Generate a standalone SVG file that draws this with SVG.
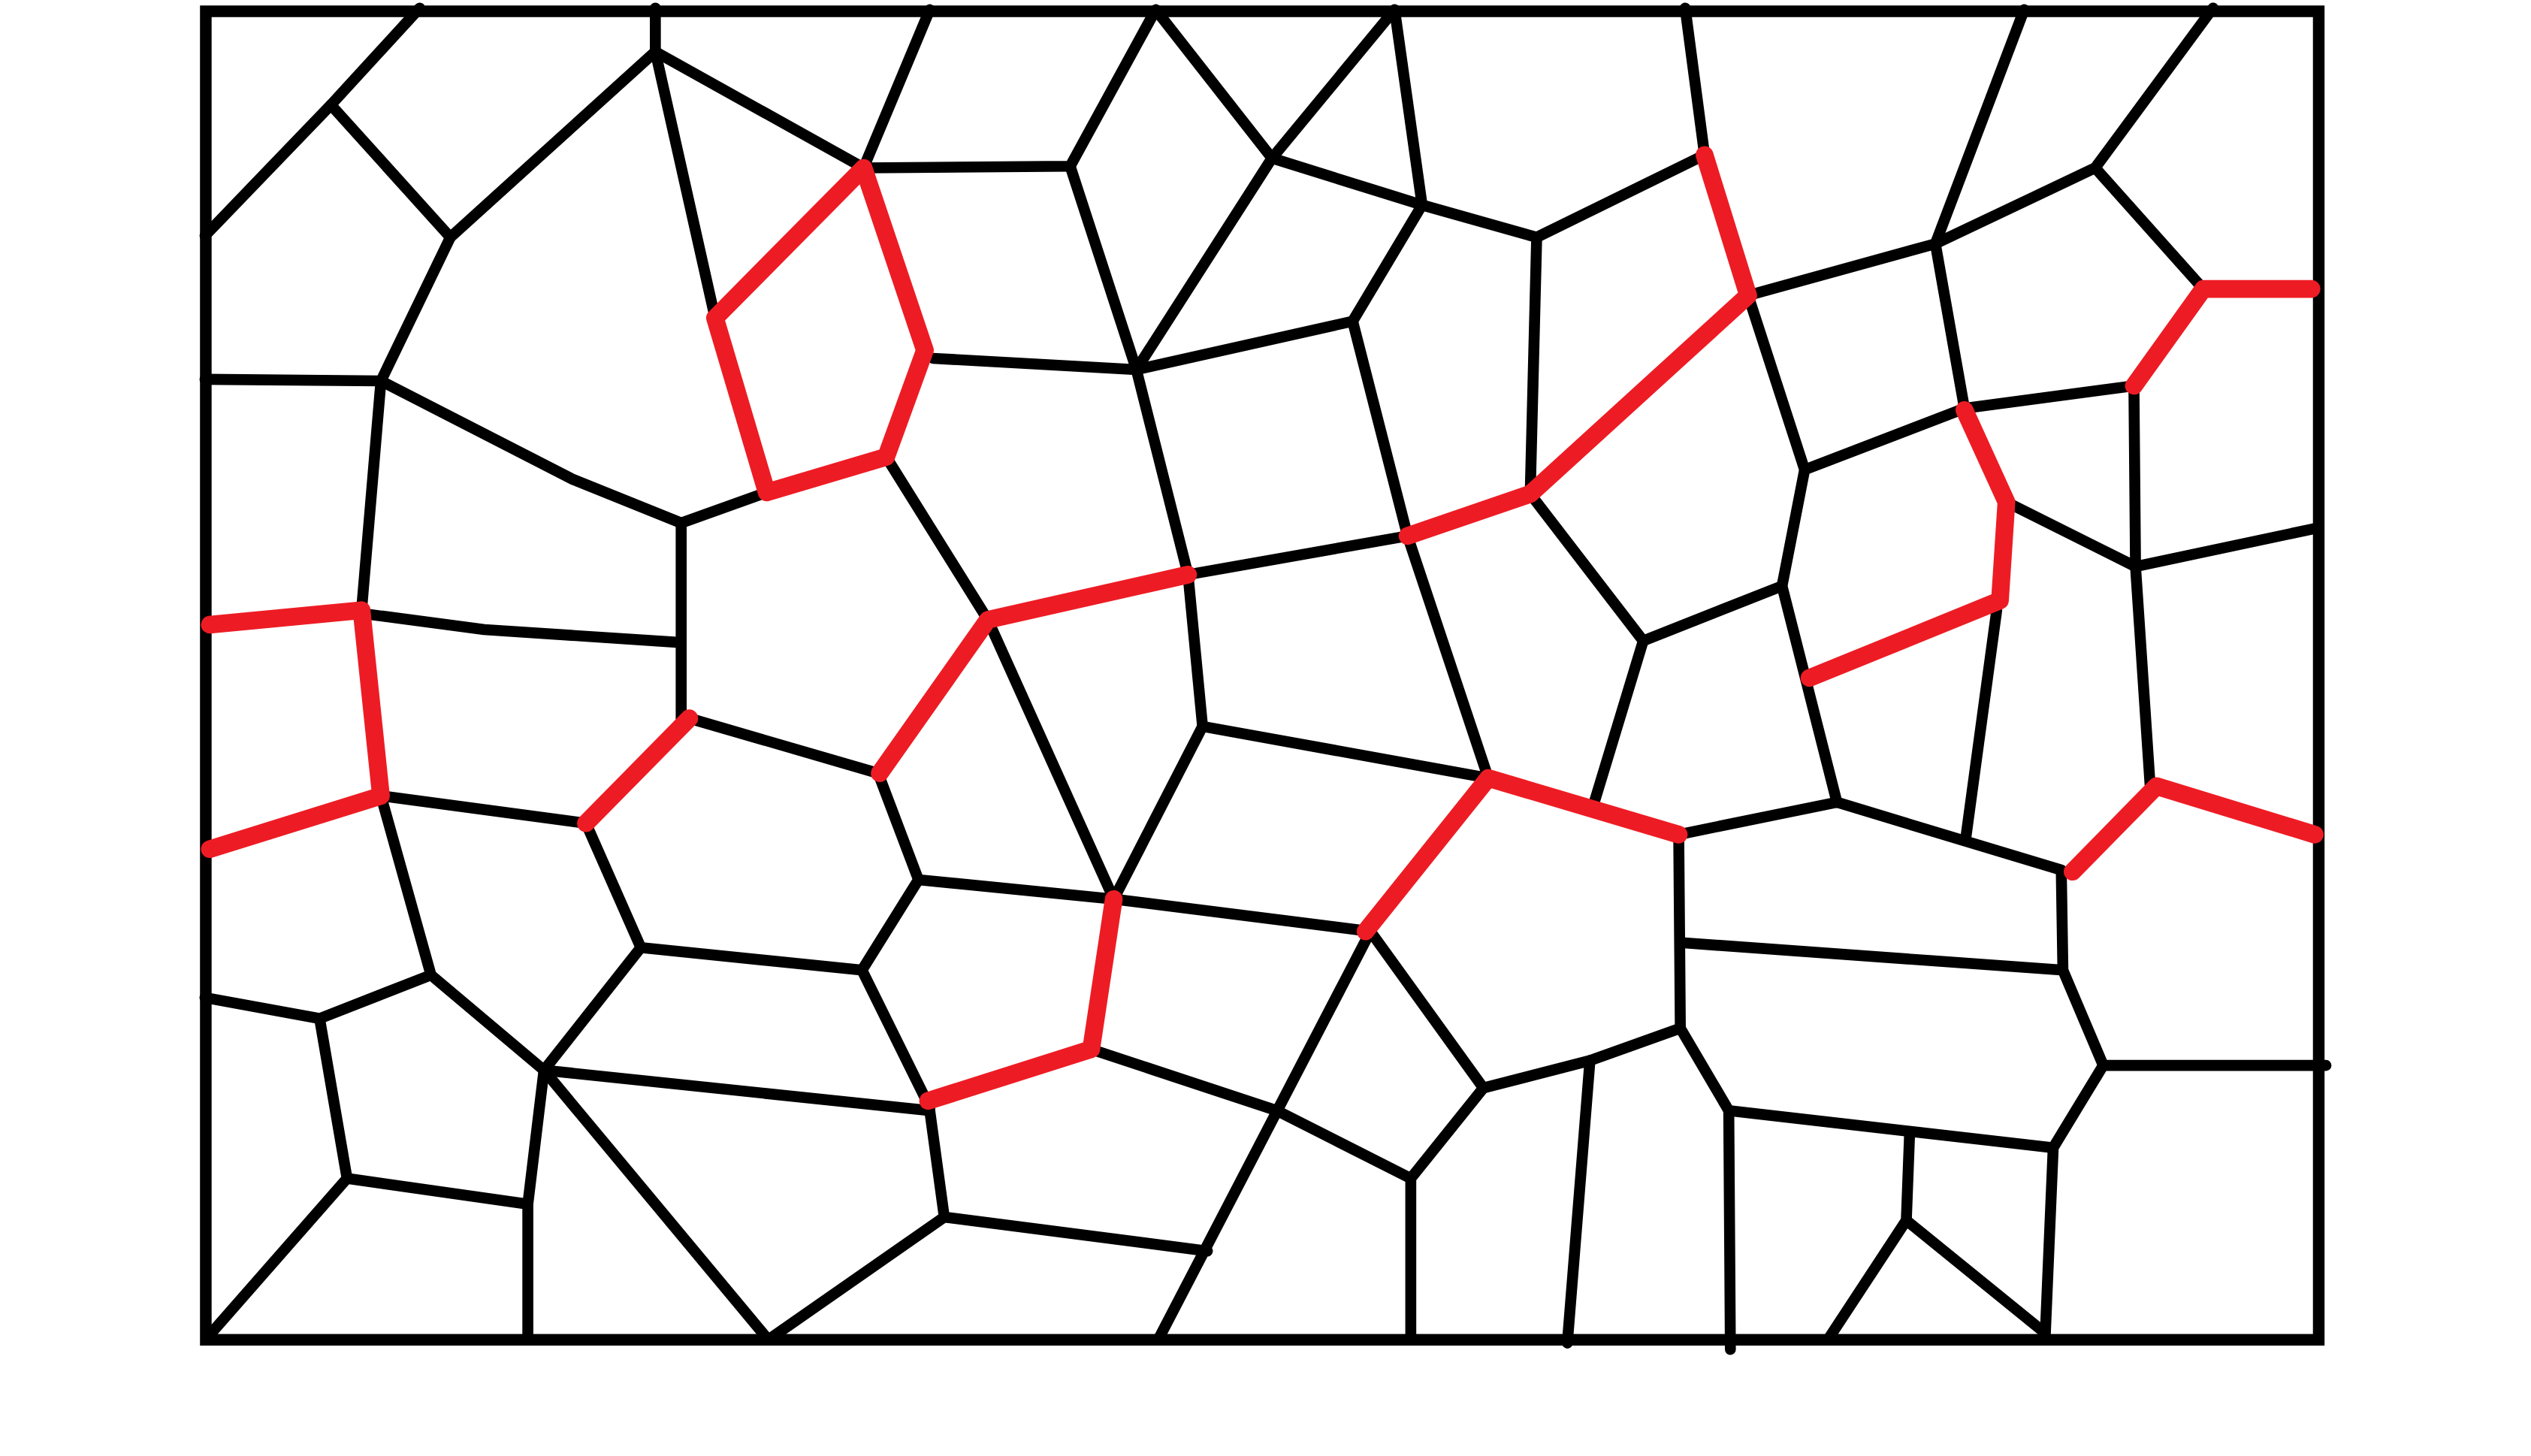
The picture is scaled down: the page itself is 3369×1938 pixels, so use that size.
<svg xmlns="http://www.w3.org/2000/svg" width="3369" height="1938" viewBox="0 0 3369 1938">
<style>
.k{fill:none;stroke:#000;stroke-width:6.8;stroke-linecap:round;stroke-linejoin:round}
.b{fill:none;stroke:#000;stroke-width:7.2;stroke-linecap:square;stroke-linejoin:miter}
.r{fill:none;stroke:#ED1C24;stroke-width:11;stroke-linecap:round;stroke-linejoin:round}
</style>
<rect width="3369" height="1938" fill="#fff"/>
<g transform="scale(2.1486)">
<g id="border"><rect class="b" x="127.5" y="7" width="1309" height="823"/></g>
<g id="black-edges" class="k">
<path d="M127,146 L205,65 L260,5"/>
<path d="M205,65 L279,147 L406,32 L406,5"/>
<path d="M406,32 L535,104 L576,6"/>
<path d="M406,32 L443,197"/>
<path d="M535,104 L663,103 L716,6 L788,98 L864,6 L881,127"/>
<path d="M788,98 L881,127 L952,147 L1056,96 L1044,5"/>
<path d="M952,147 L948,306"/>
<path d="M881,127 L838,199 L704,229 L578,222"/>
<path d="M788,98 L704,229"/>
<path d="M663,103 L704,229 L736,356 L872,332"/>
<path d="M838,199 L872,332 L922,482"/>
<path d="M948,306 L1018,397 L1104,363"/>
<path d="M1018,397 L988,496"/>
<path d="M1083,183 L1199,151 L1254,6"/>
<path d="M1083,183 L1118,291 L1104,363 L1138,497"/>
<path d="M1199,151 L1298,104 L1371,5"/>
<path d="M1298,104 L1365,179"/>
<path d="M1199,151 L1217,253 L1322,239 L1323,351 L1332,486"/>
<path d="M1217,253 L1118,291"/>
<path d="M1323,351 L1436,327"/>
<path d="M1323,351 L1243,311"/>
<path d="M1237,378 L1218,518"/>
<path d="M1138,497 L1277,539 L1278,601 L1303,660 L1441,660"/>
<path d="M1138,497 L1040,517 L1041,637"/>
<path d="M1042,584 L1278,601"/>
<path d="M1303,660 L1272,711 L1267,829"/>
<path d="M1272,711 L1071,688 L1041,637 L985,657 L971,832"/>
<path d="M1071,688 L1072,836"/>
<path d="M985,657 L919,674 L849,577"/>
<path d="M919,674 L874,730 L874,830"/>
<path d="M874,730 L791,688 L676,650"/>
<path d="M849,577 L718,829"/>
<path d="M690,557 L849,577"/>
<path d="M745,450 L922,482"/>
<path d="M736,356 L745,450 L690,557"/>
<path d="M612,384 L690,557"/>
<path d="M549,283 L612,384"/>
<path d="M475,305 L422,324 L355,297 L236,236"/>
<path d="M279,147 L236,236 L127,235"/>
<path d="M236,236 L224,378"/>
<path d="M224,380 L300,390 L421,398"/>
<path d="M422,324 L422,445"/>
<path d="M427,445 L544,479 L569,545 L534,601"/>
<path d="M569,545 L690,557"/>
<path d="M397,587 L534,601"/>
<path d="M363,510 L397,587 L337,663"/>
<path d="M236,493 L363,510"/>
<path d="M236,493 L267,604 L337,663"/>
<path d="M267,604 L198,631 L127,618"/>
<path d="M198,631 L215,730 L129,828"/>
<path d="M215,730 L327,746 L337,663"/>
<path d="M327,746 L327,830"/>
<path d="M337,663 L576,688"/>
<path d="M337,663 L476,830"/>
<path d="M534,601 L576,686"/>
<path d="M576,688 L585,754 L748,775"/>
<path d="M585,754 L476,830"/>
<path d="M1183,703 L1181,756 L1133,829"/>
<path d="M1181,756 L1266,825"/>
</g>
<g id="red-edges" class="r">
<path d="M1056,96 L1083,183 L948,306 L872,332"/>
<path d="M1432,179 L1365,179 L1322,239"/>
<path d="M1217,254 L1243,311 L1239,372 L1121,420"/>
<path d="M443,197 L535,104 L573,217 L549,283 L475,305 Z"/>
<path d="M130,387 L224,378 L236,493 L130,526"/>
<path d="M427,445 L363,510"/>
<path d="M545,479 L612,384 L736,356"/>
<path d="M846,577 L922,482 L1040,517"/>
<path d="M690,557 L676,650 L575,682"/>
<path d="M1284,540 L1336,487 L1434,517"/>
</g>
</g>
</svg>
